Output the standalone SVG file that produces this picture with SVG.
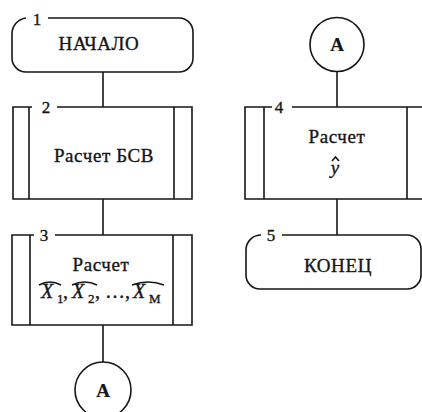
<svg xmlns="http://www.w3.org/2000/svg" width="422" height="412" viewBox="0 0 422 412">
  <style>
    .ln { fill: none; stroke: #161616; stroke-width: 1.6; }
    .bg { fill: #ffffff; }
    text { font-family: 'Liberation Serif', 'Times New Roman', serif; fill: #161616; stroke: #161616; stroke-width: 0.35; }
    .lbl { font-size: 19px; letter-spacing: 0.6px; text-anchor: middle; }
    .num { font-size: 17px; text-anchor: middle; }
    .conn { font-size: 19px; font-weight: bold; text-anchor: middle; stroke-width: 0.2; }
    .it { font-style: italic; }
    .sub { font-size: 13px; }
  </style>
  <rect class="bg" x="0" y="0" width="422" height="412"/>

  <!-- connectors -->
  <g id="connectors" class="ln">
    <line x1="103" y1="72" x2="103" y2="107"/>
    <line x1="103" y1="199" x2="103" y2="235"/>
    <line x1="103" y1="325" x2="103" y2="362"/>
    <line x1="337" y1="71" x2="337" y2="107"/>
    <line x1="337" y1="199" x2="337" y2="235"/>
  </g>

  <!-- 1: start terminal -->
  <g id="node1">
    <path class="ln" d="M 48 18 H 179 A 14 14 0 0 1 193 32 V 58 A 14 14 0 0 1 179 72 H 26 A 14 14 0 0 1 12 58 V 34 A 16 16 0 0 1 26 18"/>
    <text class="num" x="37" y="25">1</text>
    <text class="lbl" x="99" y="50">НАЧАЛО</text>
  </g>

  <!-- 2: predefined process -->
  <g id="node2">
    <path class="ln" d="M 32 107 H 13 V 199 H 192 V 107 H 57 M 29 107 V 199 M 174 107 V 199"/>
    <text class="num" x="46" y="113">2</text>
    <text class="lbl" x="104" y="162">Расчет БСВ</text>
  </g>

  <!-- 3: predefined process with estimates -->
  <g id="node3">
    <path class="ln" d="M 34 235 H 12 V 325 H 192 V 235 H 55 M 30 235 V 325 M 173 235 V 325"/>
    <text class="num" x="44" y="241">3</text>
    <text class="lbl" x="101" y="271">Расчет</text>
    <text font-size="20">
      <tspan class="it" x="41" y="298">X</tspan><tspan class="sub" x="57" y="303">1</tspan><tspan x="63" y="298">,</tspan>
      <tspan class="it" x="72" y="298">X</tspan><tspan class="sub" x="88" y="303">2</tspan><tspan x="95" y="298">, …,</tspan>
      <tspan class="it" x="133" y="298">X</tspan><tspan class="sub" x="149" y="303">М</tspan>
    </text>
    <path class="ln" stroke-width="1.2" d="M 39 285 Q 50 279 61 285 M 72 285 Q 85 279 97 285 M 132 285 Q 148 279 164 285"/>
  </g>

  <!-- connector circle (outgoing) -->
  <g id="nodeA1">
    <circle class="ln" cx="103" cy="390" r="28"/>
    <text class="conn" x="103" y="397">A</text>
  </g>

  <!-- connector circle (incoming) -->
  <g id="nodeA2">
    <circle class="ln" cx="337" cy="44.5" r="27"/>
    <text class="conn" x="337" y="51">A</text>
  </g>

  <!-- 4: predefined process -->
  <g id="node4">
    <path class="ln" d="M 272 107 H 245 V 199 H 424 M 424 107 H 292 M 264 107 V 199 M 407 107 V 199"/>
    <text class="num" x="279" y="113">4</text>
    <text class="lbl" x="337" y="143">Расчет</text>
    <text class="it" font-size="19" x="335" y="174" text-anchor="middle">y</text>
    <path class="ln" stroke-width="1.2" d="M 332 161 L 335.5 157 L 339 161"/>
  </g>

  <!-- 5: end terminal -->
  <g id="node5">
    <path class="ln" d="M 282 235 H 407 A 14 14 0 0 1 421 249 V 275 A 14 14 0 0 1 407 289 H 260 A 14 14 0 0 1 246 275 V 250 A 15 15 0 0 1 261 235"/>
    <text class="num" x="271" y="241">5</text>
    <text class="lbl" x="338" y="272">КОНЕЦ</text>
  </g>
</svg>
